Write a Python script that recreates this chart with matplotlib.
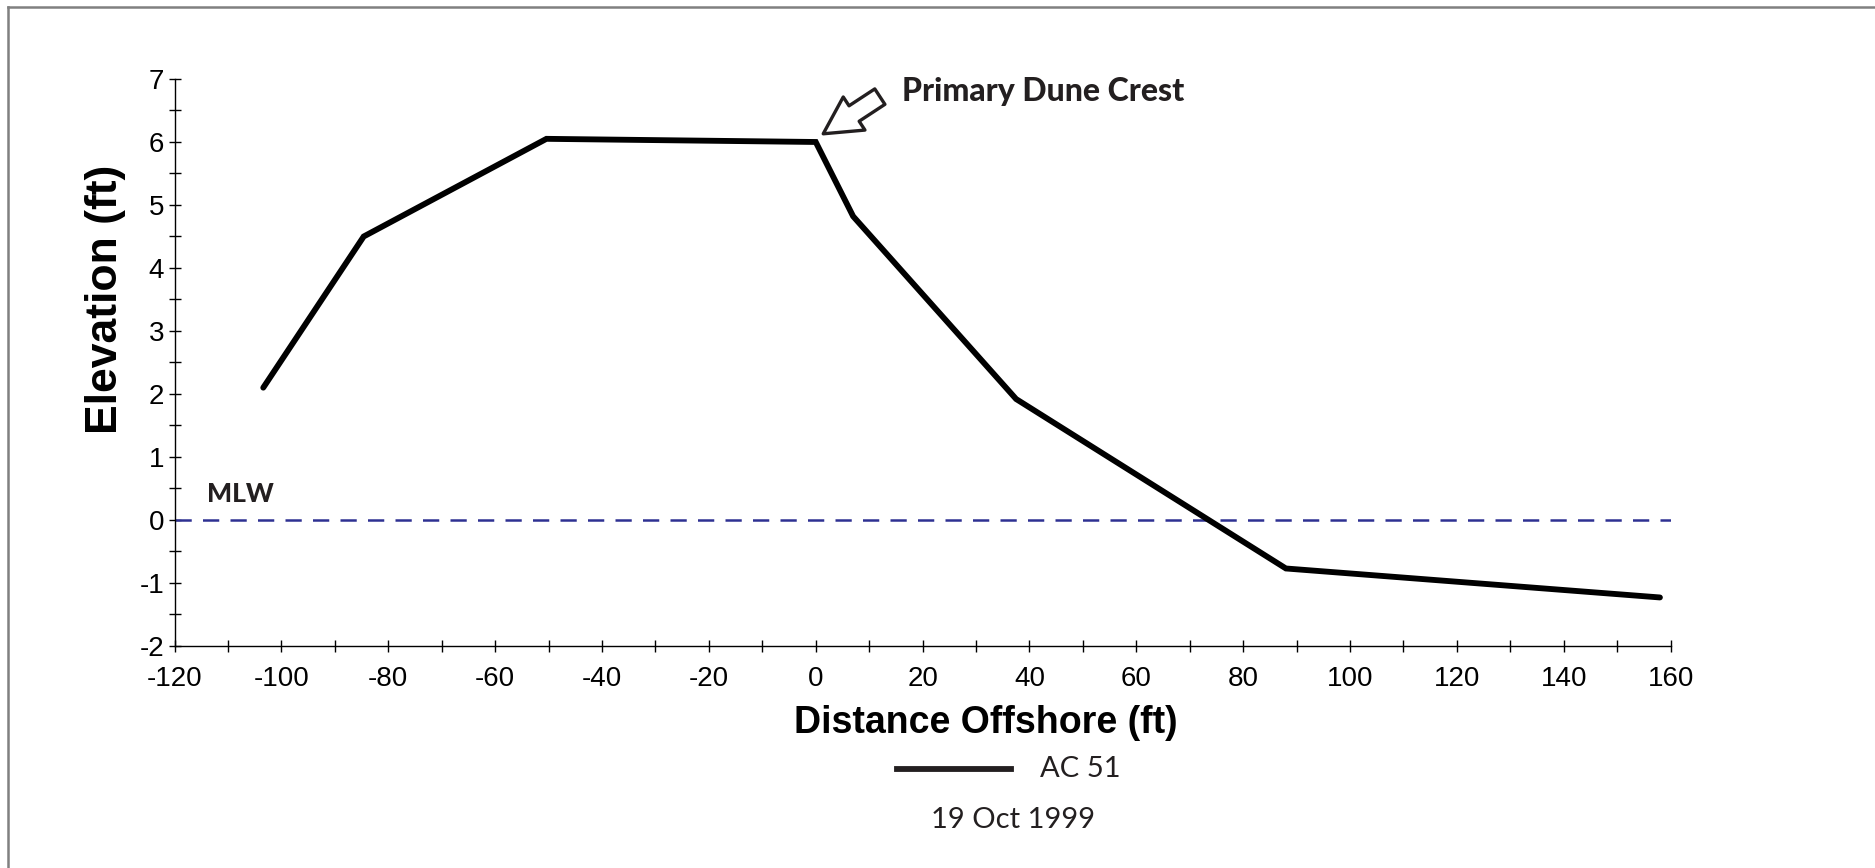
import matplotlib.pyplot as plt
from matplotlib.ticker import MultipleLocator
from matplotlib.lines import Line2D

# profile AC 51, 19 Oct 1999
distance = [-103.4, -84.6, -50.4, 0.0, 7.0, 37.5, 88.0, 158.0]
elevation = [2.1, 4.5, 6.05, 6.0, 4.82, 1.92, -0.77, -1.23]
mlw_x = [-120, 160]
mlw_y = [0, 0]

axis_font = 'Liberation Sans'
note_font = 'Lato'
plt.rcParams['font.family'] = axis_font
plt.rcParams['axes.unicode_minus'] = False

fig = plt.figure(figsize=(18.75, 8.68), dpi=100)
ax = fig.add_axes([0.0931, 0.2558, 0.7979, 0.6532])

ax.plot(distance, elevation, color='black', lw=4.2, solid_joinstyle='miter',
        solid_capstyle='round', zorder=3)
ax.plot(mlw_x, mlw_y, color='#2e3192', lw=1.8, dashes=(6.5, 4.5), zorder=2)

ax.set_xlim(-120, 160)
ax.set_ylim(-2, 7)
ax.xaxis.set_major_locator(MultipleLocator(20))
ax.xaxis.set_minor_locator(MultipleLocator(10))
ax.yaxis.set_major_locator(MultipleLocator(1))
ax.yaxis.set_minor_locator(MultipleLocator(0.5))
ax.tick_params(which='both', direction='inout', length=9, width=1.0, color='black')
ax.tick_params(axis='both', which='major', labelsize=20)
ax.tick_params(axis='x', which='major', pad=10)
ax.tick_params(axis='y', which='major', pad=3)
for s in ['top', 'right']:
    ax.spines[s].set_visible(False)
for s in ['left', 'bottom']:
    ax.spines[s].set_linewidth(1.0)

fig.text(0.526, 0.1665, 'Distance Offshore (ft)', fontsize=27,
         fontweight='bold', ha='center', va='center')
fig.text(0.056, 0.655, 'Elevation (ft)', fontsize=32,
         fontweight='bold', ha='center', va='center', rotation=90)

ax.text(-113.9, 0.41, 'MLW', family=note_font, fontsize=19, fontweight='black',
        ha='left', va='center', color='#231f20')

ax.annotate('', xy=(1.4, 6.13), xytext=(12.0, 6.72),
            arrowprops=dict(arrowstyle='simple,head_length=0.7,head_width=0.75,tail_width=0.35',
                            mutation_scale=38, fc='white', ec='#231f20', lw=2.4,
                            shrinkA=0, shrinkB=0))
ax.text(16.1, 6.8, 'Primary Dune Crest', family=note_font, fontsize=23,
        fontweight='black', ha='left', va='center', color='#231f20')

# legend and date
fig.add_artist(Line2D([0.4785, 0.539], [0.114, 0.114], color='#231f20', lw=4.2))
fig.text(0.5547, 0.114, 'AC 51', family=note_font, fontsize=21, ha='left',
         va='center', color='#231f20')
fig.text(0.5405, 0.055, '19 Oct 1999', family=note_font, fontsize=21, ha='center',
         va='center', color='#231f20')

# frame lines (top and left only)
fig.add_artist(Line2D([0.0045, 1.0], [0.9925, 0.9925], color='#808080', lw=1.8))
fig.add_artist(Line2D([0.0045, 0.0045], [0.0, 0.9925], color='#808080', lw=1.8))

fig.savefig('out.png', dpi=100, facecolor='white')
